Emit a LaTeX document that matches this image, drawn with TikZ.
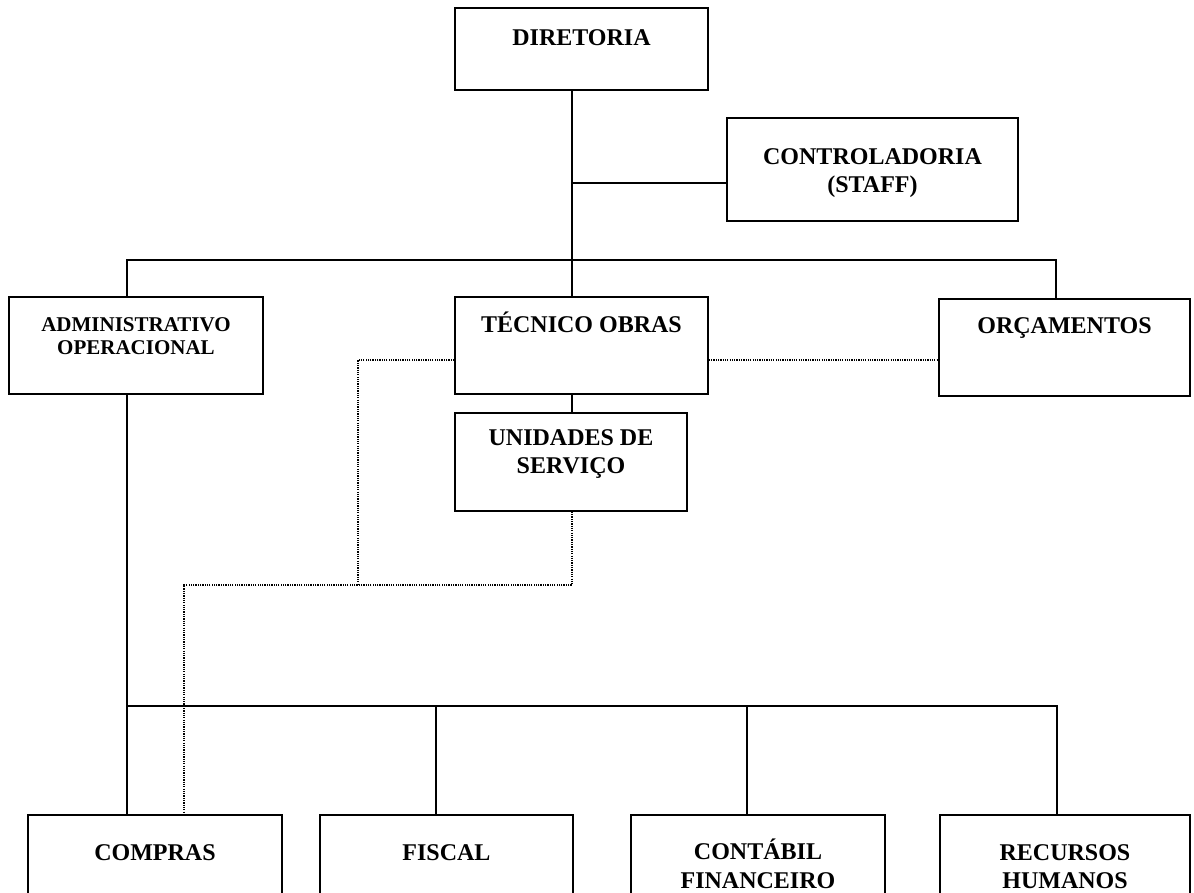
\documentclass[tikz,border=0pt]{standalone}
\usepackage{fontspec}
\setmainfont{Liberation Serif}
\begin{document}
\begin{tikzpicture}[x=1pt,y=-1pt,
  box/.style={draw, line width=1.7pt, rectangle, inner sep=0pt},
  lbl/.style={anchor=north, inner sep=0pt, align=center,
     font=\bfseries\fontsize{24}{28.5}\selectfont},
  slbl/.style={lbl, font=\bfseries\fontsize{21}{23.5}\selectfont},
  link/.style={line width=1.7pt},
  dots/.style={line width=1.7pt, dash pattern=on 1.2pt off 1.1pt}]
\useasboundingbox (0,0) rectangle (1194,893);
\clip (0,0) rectangle (1194,893);
% boxes
\node[box, minimum width=253pt, minimum height=82pt] (DIR) at (581.5,49) {};
\node[box, minimum width=291pt, minimum height=103pt] (CTRL) at (872.5,169.5) {};
\node[box, minimum width=254pt, minimum height=97pt] (ADM) at (136,345.5) {};
\node[box, minimum width=253pt, minimum height=97pt] (TEC) at (581.5,345.5) {};
\node[box, minimum width=251pt, minimum height=97pt] (ORC) at (1064.5,347.5) {};
\node[box, minimum width=232pt, minimum height=98pt] (UNI) at (571,462) {};
\node[box, minimum width=254pt, minimum height=110pt] (COMP) at (155,870) {};
\node[box, minimum width=253pt, minimum height=110pt] (FIS) at (446.5,870) {};
\node[box, minimum width=254pt, minimum height=110pt] (CON) at (758,870) {};
\node[box, minimum width=250pt, minimum height=110pt] (RH) at (1065,870) {};
% texts
\node[lbl] (tDIR) at ([yshift=-22pt]DIR.north) {DIRETORIA};
\node[lbl] (tCTRL) at ([yshift=-31pt]CTRL.north) {CONTROLADORIA\\(STAFF)};
\node[slbl] (tADM) at ([yshift=-21pt]ADM.north) {ADMINISTRATIVO\\OPERACIONAL};
\node[lbl] (tTEC) at ([yshift=-16pt]TEC.north) {TÉCNICO OBRAS};
\node[lbl] (tORC) at ([yshift=-19pt]ORC.north) {ORÇAMENTOS};
\node[lbl] (tUNI) at ([yshift=-17pt]UNI.north) {UNIDADES DE\\SERVIÇO};
\node[lbl] (tCOMP) at ([yshift=-30pt]COMP.north) {COMPRAS};
\node[lbl] (tFIS) at ([yshift=-30pt]FIS.north) {FISCAL};
\node[lbl] (tCON) at ([yshift=-25pt]CON.north) {CONTÁBIL\\FINANCEIRO};
\node[lbl] (tRH) at ([yshift=-30pt]RH.north) {RECURSOS\\HUMANOS};
% helper coordinates
\coordinate (sp) at (572,0);
\coordinate (cj) at (572,183);
\coordinate (b1) at (127,260);
\coordinate (b2) at (1056,260);
\coordinate (dy) at (0,360);
\coordinate (dl) at (358,360);
\coordinate (dlb) at (358,585);
\coordinate (du) at (572,585);
\coordinate (dc) at (184,585);
\coordinate (lb) at (127,706);
\coordinate (rb) at (1057,706);
\coordinate (fx) at (436,706);
\coordinate (cx) at (747,706);
% solid connectors
\draw[link] (DIR.south -| sp) -- (TEC.north -| sp);
\draw[link] (cj) -- (cj -| CTRL.west);
\draw[link] (ADM.north -| b1) -- (b1) -- (b2) -- (ORC.north -| b2);
\draw[link] (TEC.south -| sp) -- (UNI.north -| sp);
\draw[link] (ADM.south -| lb) -- (COMP.north -| lb);
\draw[link] (lb) -- (rb) -- (RH.north -| rb);
\draw[link] (fx) -- (FIS.north -| fx);
\draw[link] (cx) -- (CON.north -| cx);
% dotted connectors
\draw[dots] (TEC.east |- dy) -- (ORC.west |- dy);
\draw[dots] (TEC.west |- dy) -- (dl) -- (dlb);
\draw[dots] (UNI.south -| sp) -- (du) -- (dc) -- (COMP.north -| dc);
\end{tikzpicture}
\end{document}
